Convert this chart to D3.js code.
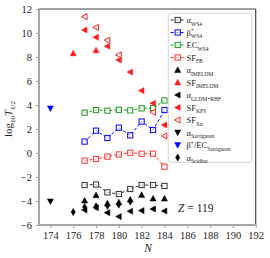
<!DOCTYPE html>
<html><head><meta charset="utf-8">
<script src="https://cdn.jsdelivr.net/npm/d3@7"></script>
<style>body{margin:0;background:#fff}svg{display:block}text{font-family:"Liberation Serif","DejaVu Serif",serif}</style>
</head><body><div id="c"></div>
<script>
const xTicks=[174,176,178,180,182,184,186,188,190,192];
const yTicks=[-6,-4,-2,0,2,4,6,8,10,12];
const nWS4=[177,178,179,180,181,182,183,184];
const alphaWS4=[-2.67,-2.62,-3.28,-3.42,-3.0,-2.67,-2.67,-2.75];
const betaWS4=[0.95,1.86,1.25,2.11,1.47,2.62,1.92,3.58];
const ecWS4=[3.36,3.58,3.53,3.6,3.55,3.72,3.74,4.38];
const sfFB=[-0.64,-0.5,-0.3,-0.12,0.02,-0.06,-0.06,-1.14];
const nIMELDMa=[177,178,179,180,181,182,183,184];
const alphaIMELDM=[-3.97,-3.52,-4.2,-4.12,-3.88,-3.5,-3.8,-3.8];
const nIMELDMsf=[176,178];
const sfIMELDM=[8.3,8.55];
const nGLDM=[177,178,179,180,181,182,183,184];
const alphaGLDM=[-4.75,-4.55,-4.97,-5.3,-4.85,-4.8,-4.67,-4.83];
const nKPS=[177,178,179,180,181,182,183,184];
const sfKPS=[10.25,9.64,8.9,7.75,6.74,5.2,4.14,2.33];
const nXu=[177,178,179,180,183,184];
const sfXu=[11.36,10.47,9.4,8.17,3.4,1.42];
const nSarr=[174];
const alphaSarr=[-4.03];
const betaSarr=[3.72];
const nScidhar=[176,177,178,179,180,181];
const alphaScidhar=[-4.92,-4.5,-4.45,-4.4,-4.3,-4.05];

const W=270,H=258;
const svg=d3.select("#c").append("svg").attr("width",W).attr("height",H);
const x=d3.scaleLinear().domain([173,192]).range([39,255.7]);
const y=d3.scaleLinear().domain([-6,12]).range([225,9]);

const BLUE="#0000ff",GREEN="#1a9a1a",RED="#ff1a1a",REDSQ="#ff3333";

const gx=svg.append("g").attr("transform","translate(0,225)")
  .call(d3.axisBottom(x).tickValues(xTicks).tickSize(3).tickPadding(4).tickFormat(d3.format("d")));
const gy=svg.append("g").attr("transform","translate(39,0)")
  .call(d3.axisLeft(y).tickValues(yTicks).tickSize(3).tickPadding(4).tickFormat(d=>d<0?"\u2212"+Math.abs(d):d));
[gx,gy].forEach(g=>{
  g.select(".domain").remove();
  g.selectAll(".tick line").attr("stroke","#999").attr("stroke-width",1);
  g.selectAll(".tick text").attr("font-size",10.5).attr("fill","#222").attr("font-family","Liberation Serif, serif");
});
svg.append("line").attr("x1",39).attr("x2",255.7).attr("y1",9).attr("y2",9).attr("stroke","#444").attr("stroke-width",1.2);
svg.append("line").attr("x1",255.7).attr("x2",255.7).attr("y1",9).attr("y2",225).attr("stroke","#444").attr("stroke-width",1.2);
svg.append("line").attr("x1",39).attr("x2",39).attr("y1",8.4).attr("y2",226).attr("stroke","#a8a8a8").attr("stroke-width",2);
svg.append("line").attr("x1",38).attr("x2",256.3).attr("y1",225).attr("y2",225).attr("stroke","#a8a8a8").attr("stroke-width",2);

function sym(g,type,cx,cy,color,open){
  let p;
  if(type==="sq"){ return g.append("rect").attr("x",cx-2.6).attr("y",cy-2.6).attr("width",5.2).attr("height",5.2)
     .attr("fill","#fff").attr("fill-opacity",0.6).attr("stroke",color).attr("stroke-width",1); }
  const s=3.2;
  if(type==="up") p=[[0,-s],[s*0.95,s*0.75],[-s*0.95,s*0.75]];
  if(type==="down") p=[[0,s],[s*0.95,-s*0.75],[-s*0.95,-s*0.75]];
  if(type==="left") p=[[-s,0],[s*0.75,-s*0.95],[s*0.75,s*0.95]];
  if(type==="dia") p=[[0,-3.6],[2.1,0],[0,3.6],[-2.1,0]];
  return g.append("path").attr("d","M"+p.map(q=>[cx+q[0],cy+q[1]].join(",")).join("L")+"Z")
    .attr("fill",open?"#fff":color).attr("stroke",color).attr("stroke-width",open?1:0.5);
}
const plot=svg.append("g");
function lineSeries(ns,vs,color){
  plot.append("path").datum(ns.map((n,i)=>[n,vs[i]]))
    .attr("d",d3.line().x(d=>x(d[0])).y(d=>y(d[1])))
    .attr("fill","none").attr("stroke",color).attr("stroke-width",1).attr("stroke-dasharray","3,2");
  ns.forEach((n,i)=>sym(plot,"sq",x(n),y(vs[i]),color,true));
}
lineSeries(nWS4,alphaWS4,"#333");
lineSeries(nWS4,betaWS4,BLUE);
lineSeries(nWS4,ecWS4,GREEN);
lineSeries(nWS4,sfFB,REDSQ);
function pts(ns,vs,type,color,open){ ns.forEach((n,i)=>sym(plot,type,x(n),y(vs[i]),color,open)); }
pts(nIMELDMa,alphaIMELDM,"up","#000");
pts(nIMELDMsf,sfIMELDM,"up",RED);
pts(nGLDM,alphaGLDM,"left","#000");
pts(nKPS,sfKPS,"left",RED);
pts(nXu,sfXu,"left",RED,true);
pts(nSarr,alphaSarr,"down","#000");
pts(nSarr,betaSarr,"down",BLUE);
pts(nScidhar,alphaScidhar,"dia","#000");

const zt=svg.append("text").attr("x",178).attr("y",212).attr("font-size",11.5).attr("fill","#222");
zt.append("tspan").attr("font-style","italic").text("Z");
zt.append("tspan").text(" = 119");

svg.append("text").attr("x",148).attr("y",252).attr("text-anchor","middle").attr("font-size",11.5).attr("font-style","italic").attr("fill","#222").text("N");
const yl=svg.append("text").attr("transform","translate(12,119) rotate(-90)").attr("text-anchor","middle").attr("font-size",11).attr("fill","#222");
yl.append("tspan").text("log");
yl.append("tspan").attr("font-size",7).attr("dy",2.5).text("10");
yl.append("tspan").attr("font-style","italic").attr("dy",-2.5).text("T");
yl.append("tspan").attr("font-size",7).attr("dy",2.5).text("1/2");

const leg=svg.append("g");
leg.append("rect").attr("x",168.3).attr("y",13.3).attr("width",83.4).attr("height",149).attr("rx",2)
  .attr("fill","#fff").attr("fill-opacity",0.85).attr("stroke","#d5d5d5").attr("stroke-width",1);
const legItems=[
  {m:"sq",c:"#333",line:true,base:"α",sub:"WS4"},
  {m:"sq",c:BLUE,line:true,base:"β",sup:"+",sub:"WS4"},
  {m:"sq",c:GREEN,line:true,base:"EC",sub:"WS4"},
  {m:"sq",c:REDSQ,line:true,base:"SF",sub:"FB"},
  {m:"up",c:"#000",base:"α",sub:"IMELDM"},
  {m:"up",c:RED,base:"SF",sub:"IMELDM"},
  {m:"left",c:"#000",base:"α",sub:"GLDM+RHF"},
  {m:"left",c:RED,base:"SF",sub:"KPS"},
  {m:"left",c:RED,open:true,base:"SF",sub:"Xu"},
  {m:"down",c:"#000",base:"α",sub:"Sarriguren"},
  {m:"down",c:BLUE,base:"β",sup:"+",mid:"/EC",sub:"Sarriguren"},
  {m:"dia",c:"#000",base:"α",sub:"Scidhar"}
];
legItems.forEach((it,i)=>{
  const yy=20+i*12.5;
  if(it.line) leg.append("line").attr("x1",170.5).attr("x2",185).attr("y1",yy).attr("y2",yy)
     .attr("stroke",it.c).attr("stroke-width",1).attr("stroke-dasharray","3,2");
  sym(leg,it.m,177.7,yy,it.c,it.m==="sq"||it.open);
  const t=leg.append("text").attr("x",186.5).attr("y",yy+3).attr("font-size",8.5).attr("fill","#222");
  t.append("tspan").text(it.base);
  if(it.sup && !it.mid){
    t.append("tspan").attr("font-size",5.5).attr("dy",-3.5).text(it.sup);
    t.append("tspan").attr("font-size",5.5).attr("dx",-3).attr("dy",6).text(it.sub);
  } else if(it.sup && it.mid){
    t.append("tspan").attr("font-size",5.5).attr("dy",-3.5).text(it.sup);
    t.append("tspan").attr("dy",3.5).text(it.mid);
    t.append("tspan").attr("font-size",5.5).attr("dy",2.5).text(it.sub);
  } else {
    t.append("tspan").attr("font-size",5.5).attr("dy",2.5).text(it.sub);
  }
});
</script></body></html>
